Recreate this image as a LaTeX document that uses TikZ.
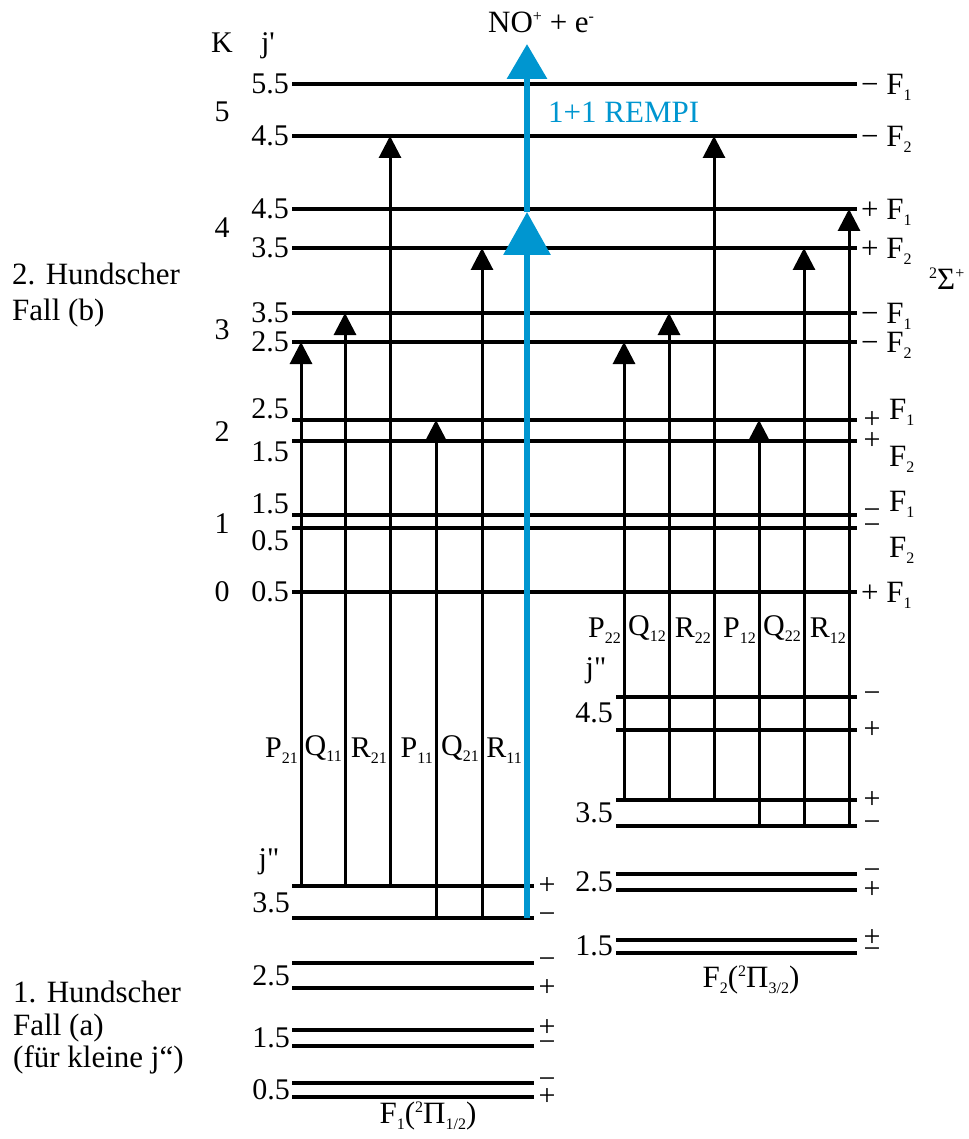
\documentclass[tikz,border=0pt]{standalone}
\usepackage{fontspec}
\setmainfont{Liberation Serif}
\usetikzlibrary{arrows.meta}
\definecolor{rempiblue}{RGB}{0,150,208}
\newcommand{\lowidx}[1]{\smash{\raisebox{-6pt}{\fontsize{16}{16}\selectfont #1}}}
\newcommand{\hiidx}[1]{\smash{\raisebox{11pt}{\fontsize{16}{16}\selectfont #1}}}
\begin{document}
\begin{tikzpicture}[x=1pt,y=-1pt,
  every node/.style={inner sep=0pt, font=\fontsize{30}{32}\selectfont},
  lvl/.style={line width=3.5pt},
  trans/.style={line width=3pt, -{Triangle[length=22pt,width=22pt]}},
  rem/.style={draw=rempiblue, line width=6.5pt},
  big/.style={font=\fontsize{31}{34}\selectfont},
  jv/.style={anchor=east, font=\fontsize{30}{32}\selectfont},
  sg/.style={anchor=center, font=\fontsize{30}{32}\selectfont},
  rl/.style={anchor=west, font=\fontsize{31}{32}\selectfont}]
\useasboundingbox (0,0) rectangle (968,1139);
% upper levels
\foreach \y in {84,136,209,248,313,342,420,441,515,528,592}
  \draw[lvl] (292,\y) -- (857,\y);
% lower F1 levels
\foreach \y in {886,918,963,988,1030,1046,1083,1097}
  \draw[lvl] (292,\y) -- (534,\y);
% lower F2 levels
\foreach \y in {697,730,800,826,874,890,940,953}
  \draw[lvl] (616,\y) -- (857,\y);

% coordinates for transitions
\coordinate (P21a) at (301,886); \coordinate (P21b) at (301,342);
\coordinate (Q11a) at (345,886); \coordinate (Q11b) at (345,313);
\coordinate (R21a) at (390,886); \coordinate (R21b) at (390,136);
\coordinate (P11a) at (436,918); \coordinate (P11b) at (436,420);
\coordinate (Q21a) at (482,918); \coordinate (Q21b) at (482,248);
\coordinate (R11a) at (527,918); \coordinate (R11b) at (527,212); \coordinate (R11c) at (527,44);
\coordinate (P22a) at (624,800); \coordinate (P22b) at (624,342);
\coordinate (Q12a) at (669,800); \coordinate (Q12b) at (669,313);
\coordinate (R22a) at (714,800); \coordinate (R22b) at (714,136);
\coordinate (P12a) at (759,826); \coordinate (P12b) at (759,420);
\coordinate (Q22a) at (804,826); \coordinate (Q22b) at (804,248);
\coordinate (R12a) at (849,826); \coordinate (R12b) at (849,209);

\foreach \t in {P21,Q11,R21,P11,Q21,P22,Q12,R22,P12,Q22,R12}
  \draw[trans] (\t a) -- (\t b);
\draw[rem, -{Triangle[length=43pt,width=46pt]}] (R11a) -- (R11b);
\draw[rem, -{Triangle[length=35pt,width=39pt]}] (R11b) -- (R11c);

% branch labels
\node[anchor=east] (lP21) at (298,748) {P\lowidx{21}};
\node[anchor=east] (lQ11) at (342,748) {Q\lowidx{11}};
\node[anchor=east] (lR21) at (387,748) {R\lowidx{21}};
\node[anchor=east] (lP11) at (433,748) {P\lowidx{11}};
\node[anchor=east] (lQ21) at (479,748) {Q\lowidx{21}};
\node[anchor=east] (lR11) at (522,748) {R\lowidx{11}};
\node[anchor=east] (lP22) at (621,628) {P\lowidx{22}};
\node[anchor=east] (lQ12) at (666,628) {Q\lowidx{12}};
\node[anchor=east] (lR22) at (711,628) {R\lowidx{22}};
\node[anchor=east] (lP12) at (756,628) {P\lowidx{12}};
\node[anchor=east] (lQ22) at (801,628) {Q\lowidx{22}};
\node[anchor=east] (lR12) at (846,628) {R\lowidx{12}};

% top labels
\node[anchor=base] (K) at (222,53) {K};
\node[anchor=base] (jp) at (268,53) {j\textquotesingle};
\node[anchor=base west, big] (ion) at (488,33) {NO\hiidx{+} + e\hiidx{-}};
\node[anchor=base west, big, text=rempiblue] (remlbl) at (548,123) {1+1 REMPI};

% K numbers
\node (K5) at (222,112) {5};
\node (K4) at (222,228) {4};
\node (K3) at (222,330) {3};
\node (K2) at (222,432) {2};
\node (K1) at (222,524) {1};
\node (K0) at (222,592) {0};

% j' values
\node[jv] (u1) at (289,84) {5.5};
\node[jv] (u2) at (289,136) {4.5};
\node[jv] (u3) at (289,209) {4.5};
\node[jv] (u4) at (289,248) {3.5};
\node[jv] (u5) at (289,313) {3.5};
\node[jv] (u6) at (289,342) {2.5};
\node[jv] (u7) at (289,409) {2.5};
\node[jv] (u8) at (289,452) {1.5};
\node[jv] (u9) at (289,504) {1.5};
\node[jv] (u10) at (289,541) {0.5};
\node[jv] (u11) at (289,592) {0.5};

% right labels of upper levels
\node[rl] (r1) at (861,84) {− F\lowidx{1}};
\node[rl] (r2) at (861,136) {− F\lowidx{2}};
\node[rl] (r3) at (861,209) {+ F\lowidx{1}};
\node[rl] (r4) at (861,248) {+ F\lowidx{2}};
\node[rl] (r5) at (861,313) {− F\lowidx{1}};
\node[rl] (r6) at (861,342) {− F\lowidx{2}};
\node[rl] (r11) at (861,592) {+ F\lowidx{1}};
\node[sg] (s7) at (872,420) {+};
\node[sg] (s8) at (872,441) {+};
\node[rl] (r7) at (889,409) {F\lowidx{1}};
\node[rl] (r8) at (889,456) {F\lowidx{2}};
\node[sg] (s9) at (872,514) {−};
\node[sg] (s10) at (872,529) {−};
\node[rl] (r9) at (889,501) {F\lowidx{1}};
\node[rl] (r10) at (889,547) {F\lowidx{2}};
\node[anchor=base west, font=\fontsize{31}{32}\selectfont] (sigma) at (929,290) {\hiidx{2}Σ\hiidx{+}};

% left texts
\node[anchor=base west, big] (h2a) at (12,285) {2. Hundscher};
\node[anchor=base west, big] (h2b) at (12,320) {Fall (b)};
\node[anchor=base west, big] (h1a) at (13,1002) {1. Hundscher};
\node[anchor=base west, big] (h1b) at (13,1035) {Fall (a)};
\node[anchor=base west, big] (h1c) at (13,1067) {(für kleine j“)};

% lower F1 labels
\node[anchor=base] (jl) at (269,868) {j\textquotedbl};
\node[jv] (l35) at (290,903) {3.5};
\node[jv] (l25) at (290,976) {2.5};
\node[jv] (l15) at (290,1038) {1.5};
\node[jv] (l05) at (290,1090) {0.5};
\node[sg] (a1) at (547,886) {+};
\node[sg] (a2) at (547,918) {−};
\node[sg] (a3) at (547,963) {−};
\node[sg] (a4) at (547,988) {+};
\node[sg] (a5) at (547,1028) {+};
\node[sg] (a6) at (547,1046) {−};
\node[sg] (a7) at (547,1083) {−};
\node[sg] (a8) at (547,1097) {+};
\node[anchor=base, big] (f1) at (428,1123) {F\lowidx{1}(\hiidx{2}Π\lowidx{1/2})};

% lower F2 labels
\node[anchor=base] (jr) at (596,677) {j\textquotedbl};
\node[jv] (m45) at (613,713) {4.5};
\node[jv] (m35) at (613,813) {3.5};
\node[jv] (m25) at (613,882) {2.5};
\node[jv] (m15) at (613,946) {1.5};
\node[sg] (b1) at (872,697) {−};
\node[sg] (b2) at (872,730) {+};
\node[sg] (b3) at (872,800) {+};
\node[sg] (b4) at (872,826) {−};
\node[sg] (b5) at (872,874) {−};
\node[sg] (b6) at (872,890) {+};
\node[sg] (b7) at (872,938) {+};
\node[sg] (b8) at (872,953) {−};
\node[anchor=base, big] (f2) at (751,987) {F\lowidx{2}(\hiidx{2}Π\lowidx{3/2})};
\end{tikzpicture}
\end{document}
